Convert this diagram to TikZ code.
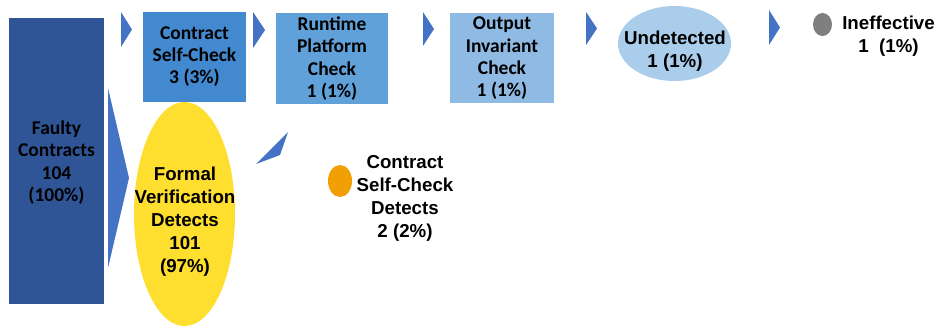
\documentclass[tikz,border=0pt]{standalone}
\usepackage{fontspec}
\setmainfont{Carlito}
\newfontfamily\arialfont{Liberation Sans}
\usetikzlibrary{shapes.geometric}
\definecolor{darkblue}{RGB}{47,85,151}
\definecolor{stepone}{RGB}{66,137,207}
\definecolor{steptwo}{RGB}{96,161,218}
\definecolor{stepthree}{RGB}{143,186,228}
\definecolor{undet}{RGB}{169,205,235}
\definecolor{chevron}{RGB}{68,114,196}
\definecolor{formal}{RGB}{254,222,46}
\definecolor{selfdet}{RGB}{242,159,5}
\definecolor{ineff}{RGB}{127,127,127}
\tikzset{
  calibri/.style={font=\fontsize{19.5}{22.3}\selectfont\bfseries, align=center, inner sep=0pt},
  arialtxt/.style={font=\arialfont\fontsize{18.7}{23}\selectfont\bfseries, align=center, inner sep=0pt},
  chev/.style={fill=chevron, draw=none},
}
\begin{document}
\begin{tikzpicture}[x=1pt,y=-1pt]
\useasboundingbox (0,0) rectangle (938,327);

% source block
\fill[darkblue] (9,18) rectangle (104,304);
\node[calibri] (faulty) at (56.5,162.5) {Faulty\\Contracts\\104\\(100\%)};

% stage boxes along the top row
\fill[stepone] (143,12) rectangle (246,102);
\node[calibri] (selfcheck) at (194.5,56.5) {Contract\\Self-Check\\3 (3\%)};
\fill[steptwo] (276,13) rectangle (388,104);
\node[calibri] (runtime) at (332,58.5) {Runtime\\Platform\\Check\\1 (1\%)};
\fill[stepthree] (450,13) rectangle (554,103);
\node[calibri] (output) at (502,58.5) {Output\\Invariant\\Check\\1 (1\%)};

% undetected outcome
\fill[undet] (674.5,43.5) ellipse [x radius=56.5, y radius=37.5];
\node[arialtxt] (undetected) at (675,51) {Undetected\\1 (1\%)};

% ineffective outcome
\fill[ineff] (822.5,24.5) ellipse [x radius=9.5, y radius=11.5];
\node[arialtxt] (ineffective) at (888.5,36.5) {Ineffective\\1\ \ (1\%)};

% formal verification outcome
\fill[formal] (184.5,214) ellipse [x radius=50.5, y radius=112];
\node[arialtxt] (formalv) at (185,222) {Formal\\Verification\\Detects\\101\\(97\%)};

% self-check detection outcome
\fill[selfdet] (340,181) ellipse [x radius=12, y radius=16];
\node[arialtxt] (selfdetect) at (405,198) {Contract\\Self-Check\\Detects\\2 (2\%)};

% chevrons between stages
\fill[chev] (121,12) -- (132,29.5) -- (121,47) -- cycle;
\fill[chev] (253,12) -- (265,30) -- (253,48) -- cycle;
\fill[chev] (423,12) -- (434,29) -- (423,46) -- cycle;
\fill[chev] (586,12) -- (597,28.5) -- (586,45) -- cycle;
\fill[chev] (769,10) -- (780,27.5) -- (769,45) -- cycle;

% large chevron into formal verification
\fill[chev] (108,88) -- (129,178) -- (108,268) -- cycle;

% slanted chevron toward self-check detection
\fill[chev] (288,132) -- (280,155) -- (256,164) -- cycle;
\end{tikzpicture}
\end{document}
